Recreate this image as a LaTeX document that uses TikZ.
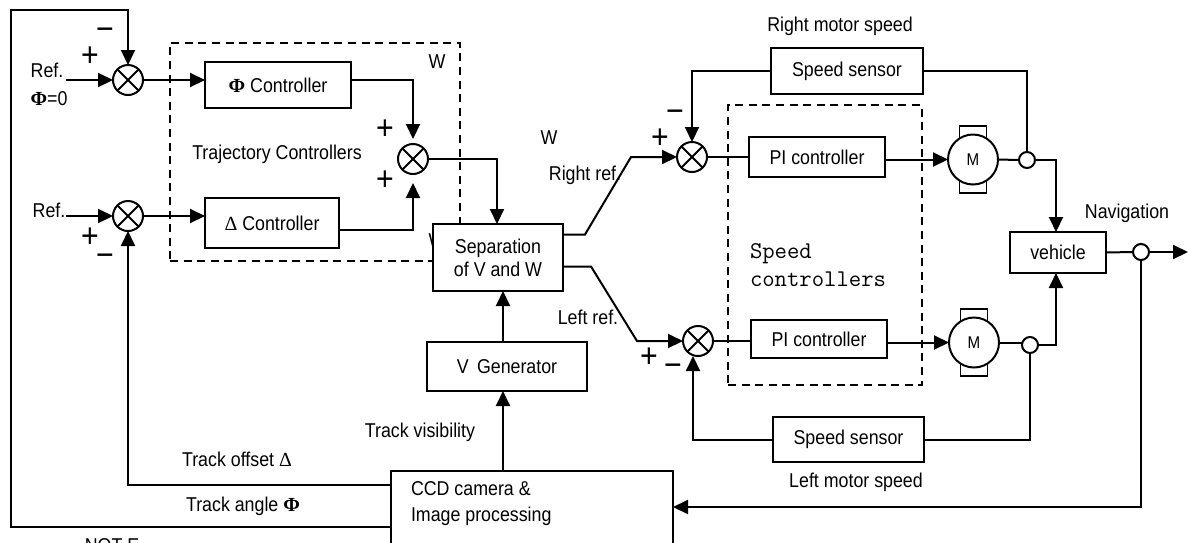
\documentclass[tikz,border=0pt]{standalone}
\usepackage{fontspec}
\setmainfont[FakeStretch=0.89]{Liberation Sans}
\newfontfamily\greekfont{Liberation Serif}
\usetikzlibrary{arrows.meta,positioning}

\begin{document}
\begin{tikzpicture}[
  x=0.5pt, y=-0.5pt,
  node distance=20pt,
  line width=1pt,
  every node/.style={outer sep=0pt, font=\fontsize{10}{11.5}\selectfont},
  ctrlbox/.style={draw, fill=white, inner sep=0pt, align=center},
  sum/.style={draw, circle, fill=white, inner sep=0pt, minimum size=15pt,
    path picture={\draw (path picture bounding box.north west) -- (path picture bounding box.south east)
      (path picture bounding box.north east) -- (path picture bounding box.south west);}},
  tap/.style={draw, circle, fill=white, inner sep=0pt, minimum size=8pt},
  motor/.style={draw, circle, fill=white, inner sep=0pt, minimum size=25pt, font=\fontsize{8.5}{10}\selectfont},
  brush/.style={draw, inner sep=0pt, minimum width=13.5pt, minimum height=33.5pt, line width=.8pt},
  dashbox/.style={draw, dashed, dash pattern=on 4pt off 2.8pt, line width=.8pt, inner sep=0pt},
  sign/.style={font=\fontsize{17}{17}\selectfont, inner sep=0pt},
  lbl/.style={inner sep=0pt, align=center},
  arrow/.style={-{Triangle[length=7.5pt, width=7pt]}}
]
\clip (0,0) rectangle (1188,542);
% dashed groups first
\node[dashbox, minimum width=145pt, minimum height=109pt] (trajbox) at (315,152) {};
\node[dashbox, minimum width=97pt, minimum height=140pt] (speedbox) at (825,245) {};
\node[lbl] (wclip) at (437,241) {W};
% left part
\node[sum] (phisum) at (128,80) {};
\node[sum] (delsum) at (128,216) {};
\node[ctrlbox, minimum width=73pt, minimum height=23pt, right=31pt of phisum, yshift=-2.5pt] (phictrl) {{\greekfont\bfseries Φ} Controller};
\node[ctrlbox, minimum width=67pt, minimum height=25pt, right=31pt of delsum, yshift=-3.5pt] (delctrl) {{\greekfont Δ} Controller};
\node[sum] (outsum) at (413,159) {};
\node[ctrlbox, minimum width=65pt, minimum height=33.5pt] (sep) at (498,257.5) {Separation\\of V and W};
\node[ctrlbox, minimum width=80pt, minimum height=24.5pt, below=25.5pt of sep, xshift=4.5pt] (vgen) {V\, Generator};
\node[ctrlbox, minimum width=141pt, minimum height=54.5pt, below=40pt of vgen, xshift=12.5pt] (ccd) {};
\node[lbl, align=left, anchor=north west] (ccdtext) at (411,482) {CCD camera \&\\[1.5pt]Image processing};
% right part
\node[sum] (rightsum) at (692,157) {};
\node[sum] (leftsum) at (698,341) {};
\node[ctrlbox, minimum width=68pt, minimum height=20pt, right=21pt of rightsum] (rightpi) {PI controller};
\node[ctrlbox, minimum width=68pt, minimum height=19pt, right=19pt of leftsum, yshift=1pt] (leftpi) {PI controller};
\node[ctrlbox, minimum width=76pt, minimum height=23pt] (rightsense) at (847,71) {Speed sensor};
\node[ctrlbox, minimum width=75.5pt, minimum height=22.5pt] (leftsense) at (848.5,439.5) {Speed sensor};
\node[brush] (rightbrush) at (973,159.5) {};
\node[brush] (leftbrush) at (974,342.5) {};
\node[motor] (rightmotor) at (973,159.5) {M};
\node[motor] (leftmotor) at (974,342.5) {M};
\node[tap] (righttap) at (1027,160) {};
\node[tap] (lefttap) at (1030,345) {};
\node[ctrlbox, minimum width=48pt, minimum height=20.5pt] (vehicle) at (1058,252.5) {vehicle};
\node[tap] (navtap) at (1141,252) {};
\coordinate (navend) at (1188,252);
\coordinate (phiin) at (66,80);
\coordinate (delin) at (66,216);
\coordinate (anglefeed) at (391,527);
\coordinate (offsetfeed) at (391,485);
% connectors
\draw[arrow] (phiin) -- (phisum.west);
\draw[arrow] (delin) -- (delsum.west);
\draw[arrow] (phisum.east) -- (phisum -| phictrl.west);
\draw[arrow] (delsum.east) -- (delsum -| delctrl.west);
\draw[arrow, shorten >=2.5pt] (phictrl.east |- phisum) -| (outsum.north);
\draw[arrow, shorten >=4.5pt] ([yshift=-3.5pt]delctrl.east) -| (outsum.south);
\draw[arrow] (outsum.east) -| ([xshift=-.5pt]sep.north);
\draw[arrow] (anglefeed) -- (11,527) -- (11,10) -- (128,10) -- (phisum.north);
\draw[arrow] (offsetfeed) -| (delsum.south);
\draw[arrow] ([xshift=-14.5pt]ccd.north) -- ([xshift=-2pt]vgen.south);
\draw[arrow] ([xshift=-2pt]vgen.north) -- ([xshift=2.5pt]sep.south);
\draw[arrow] ([yshift=11.5pt]sep.east) -- ++(22,0) -- (631,157) -- (rightsum.west);
\draw[arrow] ([yshift=-4.5pt]sep.east) -- ++(28,0) -- (637,341) -- (leftsum.west);
\draw (rightsum.east) -- (rightsum -| rightpi.west);
\draw (leftsum.east) -- (leftsum -| leftpi.west);
\draw[arrow] (rightpi.east |- rightmotor) -- (rightmotor.west);
\draw[arrow] (leftpi.east |- leftmotor) -- (leftmotor.west);
\draw[arrow] (rightsense.west) -| (rightsum.north);
\draw[arrow] (leftsense.west) -| ([xshift=-2.5pt]leftsum.south);
\draw (rightsense.east) -| (righttap.north);
\draw (rightmotor.east) -- (righttap.west);
\draw[arrow] (righttap.east) -| ([xshift=-1pt]vehicle.north);
\draw (leftmotor.east) -- (leftmotor.east -| lefttap.west);
\draw[arrow] (lefttap.east) -| ([xshift=-1pt]vehicle.south);
\draw (leftsense.east) -| (lefttap.south);
\draw (vehicle.east) -- (navtap.west);
\draw[arrow] (navtap.east) -- (navend);
\draw[arrow] (navtap.south) |- ([yshift=9.25pt]ccd.east);
% labels
\node[lbl] (phiref) at (47,70) {Ref.};
\node[lbl] (phizero) at (49,99) {{\greekfont\bfseries Φ}=0};
\node[lbl] (delref) at (49,210) {Ref.};
\node[sign] (phiminus) at (105,34) {−};
\node[sign] (phiplus) at (90,57) {+};
\node[sign] (delplus) at (90,238) {+};
\node[sign] (delminus) at (105,260) {−};
\node[sign] (outplusa) at (385,130) {+};
\node[sign] (outplusb) at (385,181) {+};
\node[sign] (rightminus) at (675,116) {−};
\node[sign] (rightplus) at (660,139) {+};
\node[sign] (leftplus) at (649,358) {+};
\node[sign] (leftminus) at (673,370) {−};
\node[lbl] (trajlabel) at (277,154) {Trajectory Controllers};
\node[lbl] (wtop) at (437,62) {W};
\node[lbl] (wmid) at (549,138) {W};
\node[lbl] (rightref) at (585,175) {Right ref.};
\node[lbl] (leftref) at (588,317) {Left ref.};
\node[lbl] (rightspeed) at (840,26) {Right motor speed};
\node[lbl] (leftspeed) at (856,482) {Left motor speed};
\node[lbl] (navlabel) at (1127,213) {Navigation};
\node[lbl] (visibility) at (420,432) {Track visibility};
\node[lbl] (offsetlabel) at (237,459) {Track offset {\greekfont Δ}};
\node[lbl] (anglelabel) at (243,506) {Track angle {\greekfont\bfseries Φ}};
\node[lbl, font=\ttfamily\fontsize{12}{14}\selectfont, align=left, anchor=north west] (speedlabel) at (750,244) {Speed\\controllers};
\node[lbl] (notelabel) at (112,546) {NOT E};
\end{tikzpicture}
\end{document}
